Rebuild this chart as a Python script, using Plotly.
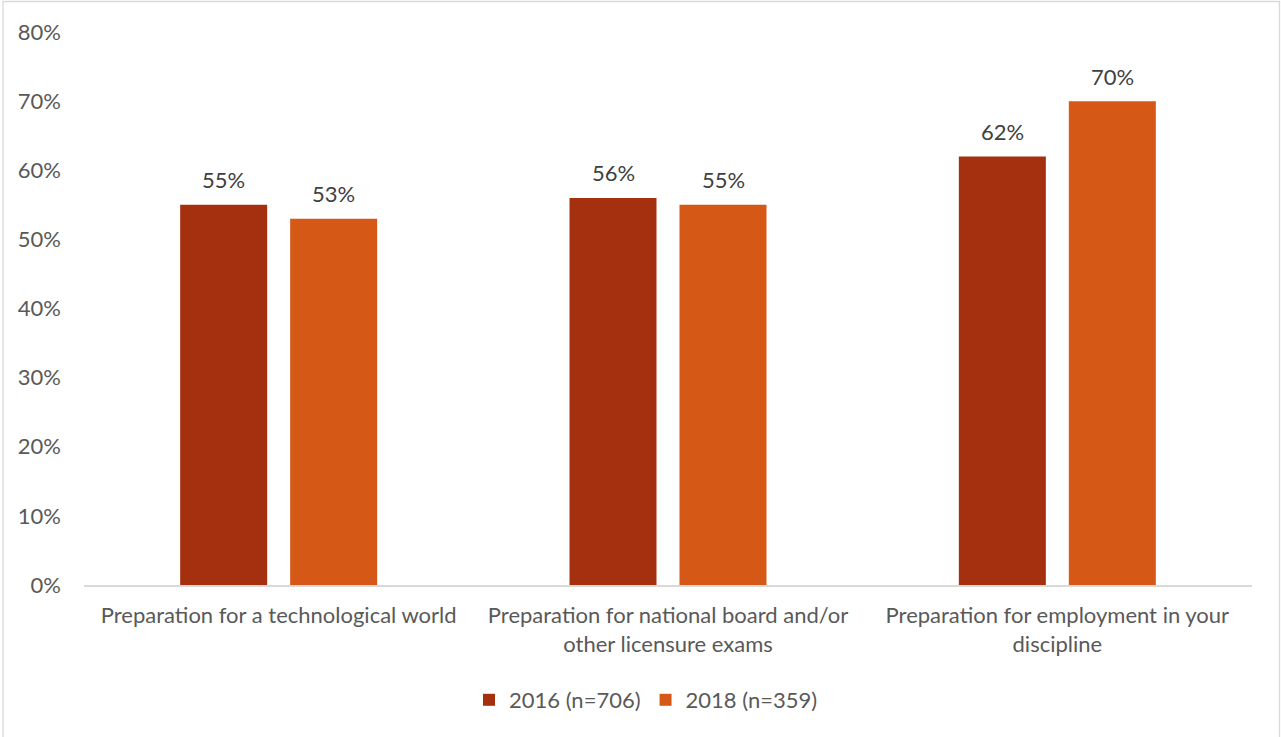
import plotly.graph_objects as go

categories = [
    "Preparation for a technological world",
    "Preparation for national board and/or<br>other licensure exams",
    "Preparation for employment in your<br>discipline",
]
series_names = ["2016 (n=706)", "2018 (n=359)"]
values_2016 = [0.55, 0.56, 0.62]
values_2018 = [0.53, 0.55, 0.70]
colors = ["#A5300F", "#D55816"]
y_ticks = [0, 0.1, 0.2, 0.3, 0.4, 0.5, 0.6, 0.7, 0.8]

FONT = "Lato"
FS = 22
W, H = 1281, 737
L, R, T, B = 84, 29, 32, 152

fig = go.Figure()
for name, vals, col in zip(series_names, [values_2016, values_2018], colors):
    fig.add_trace(go.Bar(
        x=categories, y=vals, name=name, marker=dict(color=col, line=dict(width=0)),
    ))

# value labels above each bar
for vals, shift in zip([values_2016, values_2018], [-55, 55]):
    for c, v in zip(categories, vals):
        fig.add_annotation(
            x=c, y=v, xref="x", yref="y", text=f"{v:.0%}", showarrow=False,
            xshift=shift, yshift=25, yanchor="middle",
            font=dict(family=FONT, size=FS, color="#404040"),
        )

plot_w = W - L - R
plot_h = H - T - B
# outer chart border
fig.add_shape(
    type="rect", xref="paper", yref="paper",
    x0=(3 - L) / plot_w, x1=(1279.5 - L) / plot_w,
    y0=-(740 - T - plot_h) / plot_h,
    y1=(T - 1.5) / plot_h + 1,
    line=dict(color="#D9D9D9", width=1.3), layer="below",
)

fig.update_layout(
    width=W, height=H,
    margin=dict(l=L, r=R, t=T, b=B, pad=0),
    paper_bgcolor="white", plot_bgcolor="white",
    barmode="group", bargap=0.435, bargroupgap=0.209,
    font=dict(family=FONT, size=FS, color="#595959"),
    showlegend=True,
    legend=dict(
        orientation="h", x=0.5 - 22 / plot_w, xanchor="center",
        y=(T + plot_h - 700) / plot_h, yanchor="middle",
        font=dict(family=FONT, size=FS, color="#595959"),
        itemwidth=30, traceorder="normal",
    ),
    xaxis=dict(
        showline=True, linecolor="#D9D9D9", linewidth=1.5,
        showgrid=False, ticks="", tickfont=dict(size=FS),
        ticklabelstandoff=10,
    ),
    yaxis=dict(
        range=[0, 0.8], tickvals=y_ticks, tickformat=".0%",
        showgrid=False, zeroline=False, showline=False, ticks="",
        ticklabelstandoff=22, tickfont=dict(size=FS),
    ),
)

fig.write_html("out.html")
